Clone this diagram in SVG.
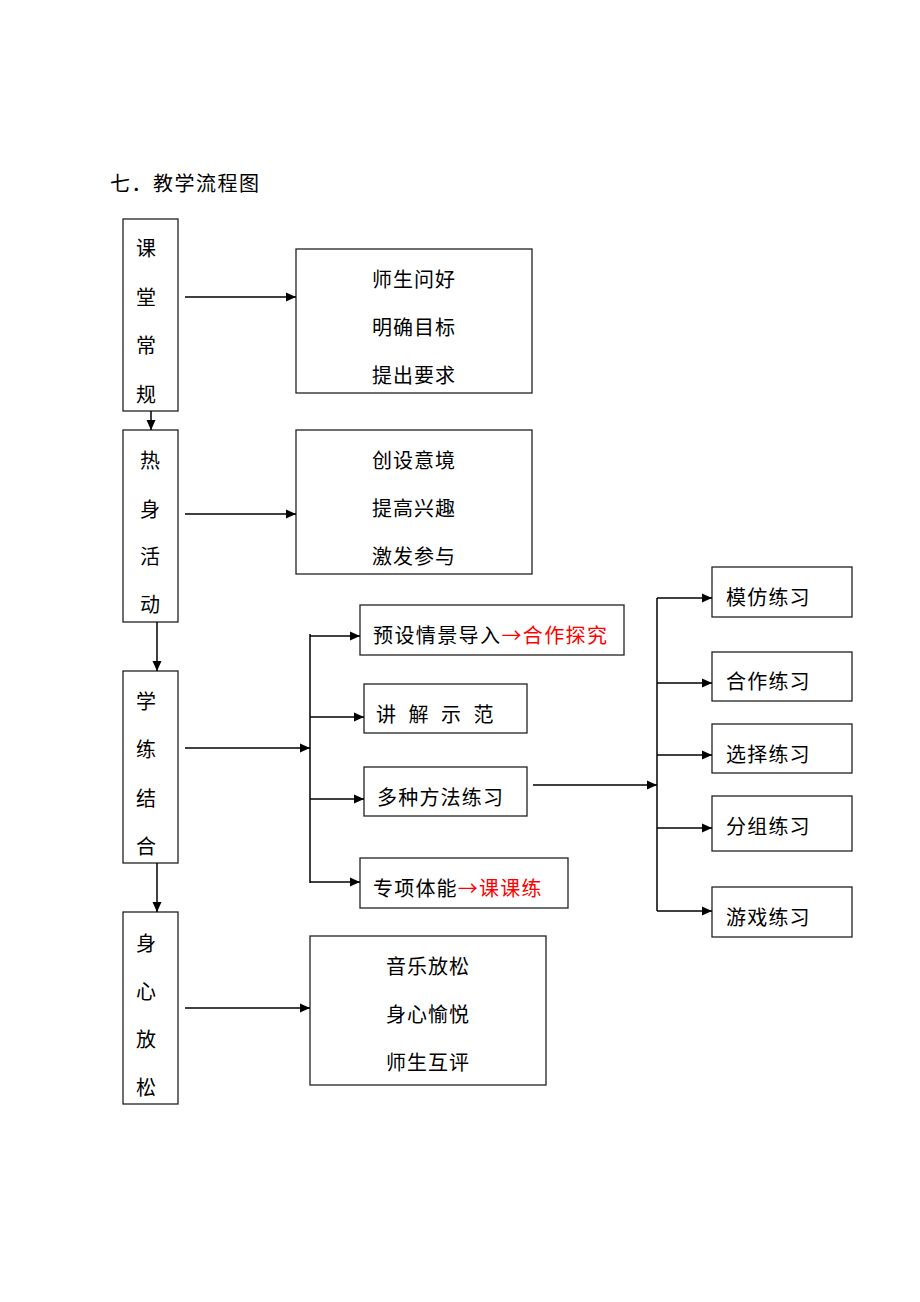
<svg xmlns="http://www.w3.org/2000/svg" width="920" height="1302" viewBox="0 0 920 1302">
<style>
text{font-family:"Noto Sans CJK SC","Noto Sans CJK JP",sans-serif;font-size:20px;fill:#000}
.box{fill:#fff;stroke:#222;stroke-width:1.3}
.red{fill:#ff0000}
.c{text-anchor:middle}
.ln{stroke:#000;stroke-width:1.5;fill:none}
.ar{stroke:#000;stroke-width:1.5;fill:none;marker-end:url(#ah)}
</style>
<defs>
<marker id="ah" markerWidth="12" markerHeight="12" refX="10" refY="5" orient="auto" markerUnits="userSpaceOnUse">
<path d="M0,0.5 L10,5 L0,9.5 Z" fill="#000"/>
</marker>
</defs>
<rect width="920" height="1302" fill="#fff"/>
<text x="110" y="191" letter-spacing="1.5">七．教学流程图</text>

<g id="n1"><rect class="box" x="123" y="219" width="55" height="192"/>
<text class="c" x="146" y="256">课</text><text class="c" x="146" y="305">堂</text><text class="c" x="146" y="353">常</text><text class="c" x="146" y="402">规</text></g>
<g id="n2"><rect class="box" x="123" y="430" width="55" height="192"/>
<text class="c" x="150" y="468">热</text><text class="c" x="150" y="517">身</text><text class="c" x="150" y="564">活</text><text class="c" x="150" y="612">动</text></g>
<g id="n3"><rect class="box" x="123" y="671" width="55" height="192"/>
<text class="c" x="146" y="709">学</text><text class="c" x="146" y="757">练</text><text class="c" x="146" y="806">结</text><text class="c" x="146" y="854">合</text></g>
<g id="n4"><rect class="box" x="123" y="912" width="55" height="192"/>
<text class="c" x="146" y="951">身</text><text class="c" x="146" y="999">心</text><text class="c" x="146" y="1047">放</text><text class="c" x="146" y="1095">松</text></g>

<g id="r1"><rect class="box" x="296" y="249" width="236" height="144"/>
<text class="c" x="414" y="287" letter-spacing="1">师生问好</text><text class="c" x="414" y="335" letter-spacing="1">明确目标</text><text class="c" x="414" y="383" letter-spacing="1">提出要求</text></g>
<g id="r2"><rect class="box" x="296" y="430" width="236" height="144"/>
<text class="c" x="414" y="468" letter-spacing="1">创设意境</text><text class="c" x="414" y="516" letter-spacing="1">提高兴趣</text><text class="c" x="414" y="564" letter-spacing="1">激发参与</text></g>
<g id="r4"><rect class="box" x="310" y="936" width="236" height="149"/>
<text class="c" x="428" y="974" letter-spacing="1">音乐放松</text><text class="c" x="428" y="1022" letter-spacing="1">身心愉悦</text><text class="c" x="428" y="1070" letter-spacing="1">师生互评</text></g>

<g id="m1"><rect class="box" x="360" y="605" width="264" height="50"/>
<text x="373" y="643" letter-spacing="1.4">预设情景导入<tspan class="red">→合作探究</tspan></text></g>
<g id="m2"><rect class="box" x="364" y="684" width="163" height="49"/>
<text x="376" y="722" xml:space="preserve" letter-spacing="4">讲 解 示 范</text></g>
<g id="m3"><rect class="box" x="364" y="767" width="163" height="49"/>
<text x="377" y="805" letter-spacing="1.2">多种方法练习</text></g>
<g id="m4"><rect class="box" x="360" y="858" width="208" height="50"/>
<text x="373" y="896" letter-spacing="1.2">专项体能<tspan class="red">→课课练</tspan></text></g>

<g id="p1"><rect class="box" x="712" y="567" width="140" height="50"/><text x="726" y="605" letter-spacing="1.2">模仿练习</text></g>
<g id="p2"><rect class="box" x="712" y="652" width="140" height="49"/><text x="726" y="689" letter-spacing="1.2">合作练习</text></g>
<g id="p3"><rect class="box" x="712" y="724" width="140" height="49"/><text x="726" y="762" letter-spacing="1.2">选择练习</text></g>
<g id="p4"><rect class="box" x="712" y="796" width="140" height="55"/><text x="726" y="834" letter-spacing="1.2">分组练习</text></g>
<g id="p5"><rect class="box" x="712" y="887" width="140" height="50"/><text x="726" y="925" letter-spacing="1.2">游戏练习</text></g>

<g id="connectors">
<line class="ar" x1="151" y1="411" x2="151" y2="430"/>
<line class="ar" x1="157" y1="622" x2="157" y2="671"/>
<line class="ar" x1="157" y1="863" x2="157" y2="912"/>
<line class="ar" x1="185" y1="297" x2="296" y2="297"/>
<line class="ar" x1="185" y1="514" x2="296" y2="514"/>
<line class="ar" x1="185" y1="1008" x2="310" y2="1008"/>
<line class="ar" x1="185" y1="748" x2="310" y2="748"/>
<polyline class="ln" points="310,634 310,883"/>
<line class="ar" x1="310" y1="636" x2="360" y2="636"/>
<line class="ar" x1="310" y1="717" x2="364" y2="717"/>
<line class="ar" x1="310" y1="799" x2="364" y2="799"/>
<line class="ar" x1="310" y1="882" x2="360" y2="882"/>
<line class="ar" x1="533" y1="785" x2="657" y2="785"/>
<polyline class="ln" points="657,598 657,911"/>
<line class="ar" x1="657" y1="598" x2="712" y2="598"/>
<line class="ar" x1="657" y1="683" x2="712" y2="683"/>
<line class="ar" x1="657" y1="755" x2="712" y2="755"/>
<line class="ar" x1="657" y1="828" x2="712" y2="828"/>
<line class="ar" x1="657" y1="911" x2="712" y2="911"/>
</g>
</svg>
